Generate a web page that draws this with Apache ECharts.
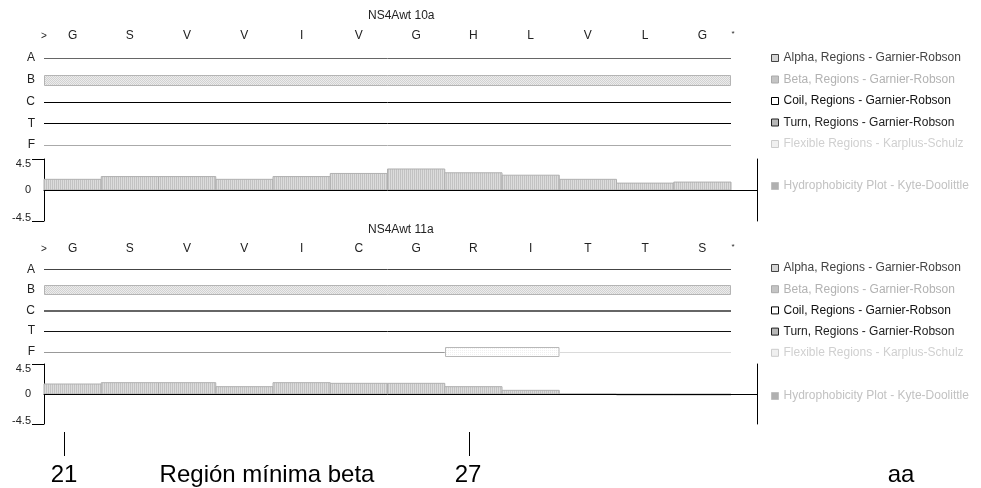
<!DOCTYPE html>
<html>
<head>
<meta charset="utf-8">
<script src="https://cdn.jsdelivr.net/npm/echarts@6/dist/echarts.min.js"></script>
<style>
html, body { margin: 0; padding: 0; background: #fff; }
#main { width: 981px; height: 488px; }
</style>
</head>
<body>
<div id="main"></div>
<script>
const FONT = '"Liberation Sans", Arial, sans-serif';

const rowNames = ['A', 'B', 'C', 'T', 'F'];
const residues1 = ['G', 'S', 'V', 'V', 'I', 'V', 'G', 'H', 'L', 'V', 'L', 'G'];
const residues2 = ['G', 'S', 'V', 'V', 'I', 'C', 'G', 'R', 'I', 'T', 'T', 'S'];
const hydro1 = [1.55, 1.95, 1.95, 1.55, 1.95, 2.4, 3.05, 2.5, 2.15, 1.55, 1.0, 1.15];
const hydro2 = [1.5, 1.7, 1.7, 1.1, 1.7, 1.6, 1.6, 1.1, 0.55, 0, -0.15, -0.15];
const hydroTicks = [-4.5, 0, 4.5];

// regiones [desde, hasta] en posiciones de residuo
const alpha1 = [], beta1 = [[0, 12]], coil1 = [], turn1 = [], flex1 = [];
const alpha2 = [], beta2 = [[0, 12]], coil2 = [], turn2 = [], flex2 = [[7, 9]];

const ALPHA = 'Alpha, Regions - Garnier-Robson';
const BETA = 'Beta, Regions - Garnier-Robson';
const COIL = 'Coil, Regions - Garnier-Robson';
const TURN = 'Turn, Regions - Garnier-Robson';
const FLEX = 'Flexible Regions - Karplus-Schulz';
const HYDRO = 'Hydrophobicity Plot - Kyte-Doolittle';

// pequeños patrones de relleno
function makePattern(colors) {
  const c = document.createElement('canvas');
  c.width = colors[0].length;
  c.height = colors.length;
  const ctx = c.getContext('2d');
  colors.forEach((row, y) => row.forEach((col, x) => {
    ctx.fillStyle = col;
    ctx.fillRect(x, y, 1, 1);
  }));
  return { image: c, repeat: 'repeat' };
}
const checker = makePattern([['#d2d2d2', '#ececec'], ['#ececec', '#d2d2d2']]);
const stripes = makePattern([['#c2c2c2', '#dcdcdc']]);
const dots = makePattern([['#f0f0f0', '#ffffff'], ['#ffffff', '#ffffff']]);

const panel1 = { residues: residues1, sx: 0, sy: 0, hx: 2, hy: 1 };
const panel2 = { residues: residues2, sx: 3, sy: 3, hx: 5, hy: 4 };

function rowSeries(name, panel, row, regions, look) {
  const n = panel.residues.length;
  const items = [];
  let pos = 0, gap = 0;
  regions.forEach(r => {
    if (r[0] > pos) items.push([pos, r[0], row, 0, gap++]);
    items.push([r[0], r[1], row, 1, 0]);
    pos = r[1];
  });
  if (pos < n) items.push([pos, n, row, 0, gap]);
  return {
    type: 'custom',
    name: name,
    xAxisIndex: panel.sx,
    yAxisIndex: panel.sy,
    silent: true,
    encode: { x: [0, 1], y: 2 },
    data: items,
    renderItem: function (params, api) {
      const a = api.coord([api.value(0), api.value(2)]);
      const b = api.coord([api.value(1), api.value(2)]);
      if (api.value(3) === 0) {
        const colors = look.lines;
        const w = look.width || 1;
        const y = w % 2 ? Math.round(a[1]) + 0.5 : Math.round(a[1]);
        return {
          type: 'line',
          shape: { x1: a[0], y1: y, x2: b[0], y2: y },
          style: { stroke: colors[Math.min(api.value(4), colors.length - 1)], lineWidth: w }
        };
      }
      const h = Math.round(api.size([0, 1])[1] * 0.46);
      return {
        type: 'rect',
        shape: { x: Math.round(a[0]) + 0.5, y: Math.round(a[1] - h / 2) + 0.5, width: b[0] - a[0] - 1, height: h },
        style: { fill: look.fill, stroke: look.stroke, lineWidth: 1 }
      };
    }
  };
}

function hydroSeries(panel, values) {
  return {
    type: 'custom',
    name: HYDRO,
    xAxisIndex: panel.hx,
    yAxisIndex: panel.hy,
    silent: true,
    encode: { x: 0, y: 1 },
    data: values.map((v, i) => [i, v]),
    renderItem: function (params, api) {
      const i = api.value(0);
      const p = api.coord([i, api.value(1)]);
      const q = api.coord([i + 1, 0]);
      const children = [{
        type: 'rect',
        shape: { x: p[0], y: Math.min(p[1], q[1]), width: q[0] - p[0], height: Math.abs(q[1] - p[1]) },
        style: { fill: stripes, stroke: '#b0b0b0', lineWidth: 1 }
      }];
      if (i === values.length - 1) {
        const y = Math.round(q[1]) + 0.5;
        children.push({
          type: 'line',
          shape: { x1: q[0] - 1, y1: y, x2: q[0] + 26, y2: y },
          style: { stroke: '#000', lineWidth: 1 }
        });
      }
      return { type: 'group', children: children };
    }
  };
}

function residueAxis(grid, residues, margin) {
  const n = residues.length;
  return {
    type: 'value', gridIndex: grid, position: 'top', min: 0, max: n, interval: 0.5,
    axisLine: { show: false }, axisTick: { show: false }, splitLine: { show: false },
    axisLabel: {
      margin: margin, fontSize: 12, color: '#222', fontFamily: FONT,
      formatter: function (v) {
        if (v === 0) return '{m|>}';
        if (v === n) return '{s|*}';
        const i = v - 0.5;
        return Number.isInteger(i) ? residues[i] : '';
      },
      rich: {
        m: { fontSize: 10, color: '#222', fontFamily: FONT, padding: [0, 0, 1, 0] },
        s: { fontSize: 8, color: '#222', fontFamily: FONT, padding: [0, 0, 4, 4] }
      }
    }
  };
}

function hiddenX(grid, n) {
  return { type: 'value', gridIndex: grid, min: 0, max: n, show: false };
}

function hydroX(grid, n, yIdx) {
  return {
    type: 'value', gridIndex: grid, min: 0, max: n, z: 3,
    axisLine: { show: true, onZero: true, onZeroAxisIndex: yIdx, lineStyle: { color: '#000', width: 1 } },
    axisTick: { show: false }, axisLabel: { show: false }, splitLine: { show: false }
  };
}

function rowAxis(grid) {
  return {
    type: 'category', gridIndex: grid, data: rowNames, inverse: true,
    axisLine: { show: false }, axisTick: { show: false }, splitLine: { show: false },
    axisLabel: { margin: 9, fontSize: 12, color: '#222', fontFamily: FONT }
  };
}

function hydroY(grid) {
  return {
    type: 'value', gridIndex: grid, min: hydroTicks[0], max: hydroTicks[2], interval: 4.5,
    axisLine: { show: true, lineStyle: { color: '#000', width: 1 } },
    axisTick: { show: true, length: 12, customValues: [hydroTicks[0], hydroTicks[2]], lineStyle: { color: '#000' } },
    splitLine: { show: false },
    axisLabel: {
      margin: 13, fontSize: 11, color: '#222', fontFamily: FONT, customValues: hydroTicks,
      formatter: function (v) {
        if (v === hydroTicks[2]) return '{hi|' + v + '}';
        if (v === hydroTicks[0]) return '{lo|' + v + '}';
        return String(v);
      },
      rich: {
        hi: { fontSize: 11, color: '#222', fontFamily: FONT, padding: [10, 0, 0, 0] },
        lo: { fontSize: 11, color: '#222', fontFamily: FONT, padding: [0, 0, 7, 0] }
      }
    }
  };
}

function hydroYRight(grid) {
  return {
    type: 'value', gridIndex: grid, position: 'right', offset: 26,
    min: hydroTicks[0], max: hydroTicks[2], interval: 4.5,
    axisLine: { show: true, lineStyle: { color: '#000', width: 1 } },
    axisTick: { show: false }, axisLabel: { show: false }, splitLine: { show: false }
  };
}

const legendStyle = {
  orient: 'vertical', left: 771, padding: 0, itemWidth: 7, itemHeight: 7, selectedMode: false,
  textStyle: { fontSize: 12, lineHeight: 14, fontFamily: FONT }
};
function structLegend(top, gap) {
  return Object.assign({}, legendStyle, {
    top: top, itemGap: gap,
    data: [
      { name: ALPHA, icon: 'rect', itemStyle: { color: '#d4d4d4', borderColor: '#444', borderWidth: 1 }, textStyle: { color: '#444' } },
      { name: BETA, icon: 'rect', itemStyle: { color: '#c4c4c4', borderColor: '#aaa', borderWidth: 1 }, textStyle: { color: '#b2b2b2' } },
      { name: COIL, icon: 'rect', itemStyle: { color: '#fff', borderColor: '#000', borderWidth: 1 }, textStyle: { color: '#111' } },
      { name: TURN, icon: 'rect', itemStyle: { color: '#b8b8b8', borderColor: '#222', borderWidth: 1 }, textStyle: { color: '#222' } },
      { name: FLEX, icon: 'rect', itemStyle: { color: '#f0f0f0', borderColor: '#ccc', borderWidth: 1 }, textStyle: { color: '#d0d0d0' } }
    ]
  });
}
function hydroLegend(top) {
  return Object.assign({}, legendStyle, {
    top: top,
    data: [{ name: HYDRO, icon: 'rect', itemStyle: { color: '#b0b0b0', borderColor: '#c0c0c0', borderWidth: 1 }, textStyle: { color: '#c2c2c2' } }]
  });
}

const titleStyle = { fontSize: 12, fontWeight: 'normal', color: '#222', fontFamily: FONT };

const chart = echarts.init(document.getElementById('main'));
chart.setOption({
  animation: false,
  backgroundColor: '#fff',
  title: [
    { text: 'NS4Awt 10a', left: 368, top: 10, padding: 0, textStyle: titleStyle },
    { text: 'NS4Awt 11a', left: 368, top: 224, padding: 0, textStyle: titleStyle }
  ],
  legend: [structLegend(51, 7.5), hydroLegend(179), structLegend(261, 7.2), hydroLegend(389)],
  grid: [
    { left: 44, top: 47, width: 687, height: 109 },
    { left: 44, top: 159, width: 687, height: 62 },
    { left: 44, top: 259, width: 687, height: 103 },
    { left: 44, top: 364, width: 687, height: 60 }
  ],
  xAxis: [
    hiddenX(0, residues1.length),
    residueAxis(0, residues1, 5),
    hydroX(1, residues1.length, 1),
    hiddenX(2, residues2.length),
    residueAxis(2, residues2, 4),
    hydroX(3, residues2.length, 4)
  ],
  yAxis: [
    rowAxis(0), hydroY(1), hydroYRight(1),
    rowAxis(2), hydroY(3), hydroYRight(3)
  ],
  series: [
    rowSeries(ALPHA, panel1, 0, alpha1, { lines: ['#666'] }),
    rowSeries(BETA, panel1, 1, beta1, { lines: ['#aaa'], fill: checker, stroke: '#b4b4b4' }),
    rowSeries(COIL, panel1, 2, coil1, { lines: ['#000'] }),
    rowSeries(TURN, panel1, 3, turn1, { lines: ['#000'] }),
    rowSeries(FLEX, panel1, 4, flex1, { lines: ['#aaa'] }),
    hydroSeries(panel1, hydro1),
    rowSeries(ALPHA, panel2, 0, alpha2, { lines: ['#444'] }),
    rowSeries(BETA, panel2, 1, beta2, { lines: ['#aaa'], fill: checker, stroke: '#b4b4b4' }),
    rowSeries(COIL, panel2, 2, coil2, { lines: ['#666'], width: 2 }),
    rowSeries(TURN, panel2, 3, turn2, { lines: ['#111'] }),
    rowSeries(FLEX, panel2, 4, flex2, { lines: ['#999', '#dadada'], fill: dots, stroke: '#b8b8b8' }),
    hydroSeries(panel2, hydro2)
  ],
  graphic: [
    { type: 'line', shape: { x1: 64.5, y1: 432, x2: 64.5, y2: 456 }, style: { stroke: '#000', lineWidth: 1 } },
    { type: 'line', shape: { x1: 469.5, y1: 432, x2: 469.5, y2: 456 }, style: { stroke: '#000', lineWidth: 1 } },
    { type: 'text', x: 64, y: 475, style: { text: '21', fontSize: 24, fontFamily: FONT, fill: '#000', align: 'center', verticalAlign: 'middle' } },
    { type: 'text', x: 267, y: 475, style: { text: 'Región mínima beta', fontSize: 24, fontFamily: FONT, fill: '#000', align: 'center', verticalAlign: 'middle' } },
    { type: 'text', x: 468, y: 475, style: { text: '27', fontSize: 24, fontFamily: FONT, fill: '#000', align: 'center', verticalAlign: 'middle' } },
    { type: 'text', x: 901, y: 475, style: { text: 'aa', fontSize: 24, fontFamily: FONT, fill: '#000', align: 'center', verticalAlign: 'middle' } }
  ]
});
</script>
</body>
</html>
